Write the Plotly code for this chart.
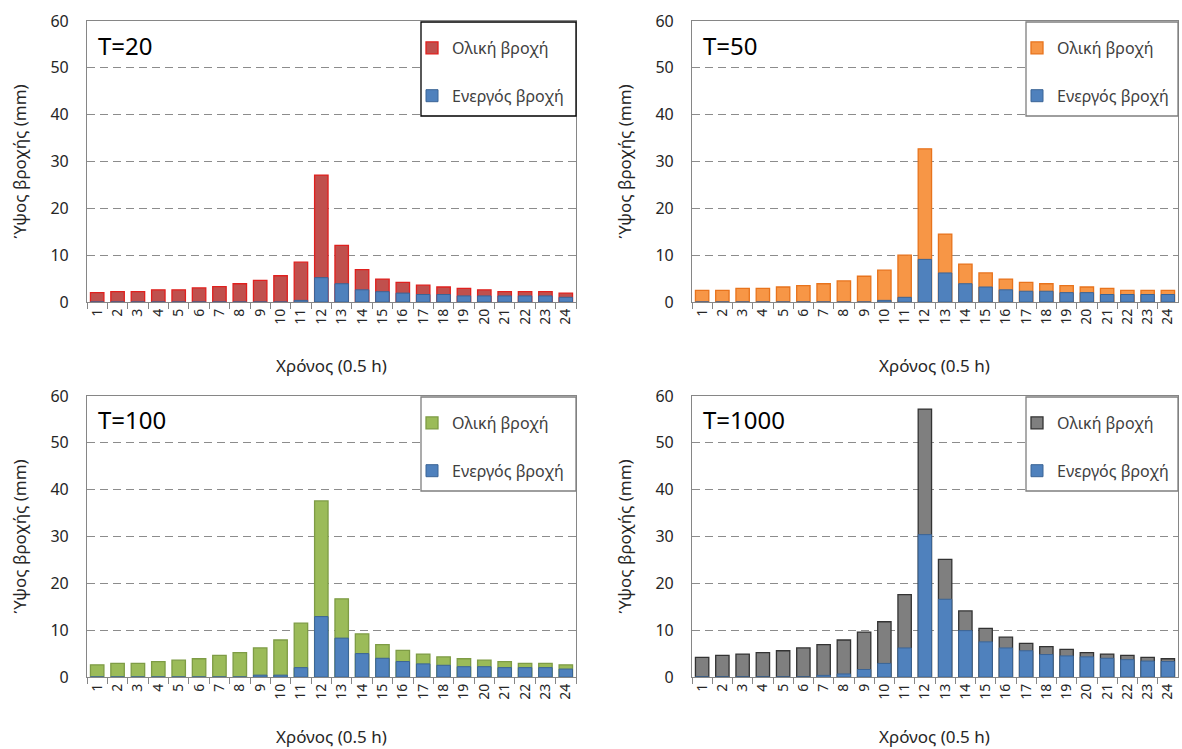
import plotly.graph_objects as go

steps = [str(i) for i in range(1, 25)]

total_T20 = [2.0, 2.2, 2.2, 2.6, 2.6, 3.0, 3.3, 3.9, 4.6, 5.6, 8.5, 27.1, 12.1, 6.9, 4.9, 4.2, 3.6, 3.2, 2.9, 2.6, 2.2, 2.2, 2.2, 1.9]
eff_T20 = [0, 0, 0, 0, 0, 0, 0, 0, 0, 0, 0.35, 5.2, 3.9, 2.6, 2.2, 1.9, 1.6, 1.6, 1.3, 1.3, 1.3, 1.3, 1.3, 1.0]

total_T50 = [2.5, 2.5, 2.9, 2.9, 3.2, 3.5, 3.9, 4.5, 5.5, 6.8, 10.0, 32.7, 14.5, 8.1, 6.2, 4.9, 4.2, 3.9, 3.5, 3.2, 2.9, 2.5, 2.5, 2.5]
eff_T50 = [0, 0, 0, 0, 0, 0, 0, 0, 0, 0.35, 1.0, 9.1, 6.2, 3.9, 3.2, 2.6, 2.3, 2.3, 2.0, 2.0, 1.6, 1.6, 1.6, 1.6]

total_T100 = [2.6, 2.9, 2.9, 3.3, 3.6, 3.9, 4.6, 5.2, 6.2, 7.9, 11.5, 37.6, 16.7, 9.2, 6.9, 5.7, 4.9, 4.3, 3.9, 3.6, 3.3, 2.9, 2.9, 2.6]
eff_T100 = [0, 0, 0, 0, 0, 0, 0, 0, 0.4, 0.4, 2.0, 12.9, 8.3, 5.0, 4.0, 3.3, 2.8, 2.5, 2.2, 2.2, 2.0, 2.0, 2.0, 1.7]

total_T1000 = [4.2, 4.6, 4.9, 5.2, 5.6, 6.2, 6.9, 7.9, 9.6, 11.8, 17.6, 57.2, 25.1, 14.1, 10.4, 8.5, 7.2, 6.5, 5.9, 5.2, 4.9, 4.6, 4.2, 3.9]
eff_T1000 = [0, 0, 0, 0, 0, 0, 0.35, 0.65, 1.6, 2.9, 6.2, 30.4, 16.6, 9.9, 7.5, 6.2, 5.6, 4.8, 4.5, 4.3, 4.0, 3.7, 3.4, 3.3]

labels = ["T=20", "T=50", "T=100", "T=1000"]
totals = [total_T20, total_T50, total_T100, total_T1000]
effs = [eff_T20, eff_T50, eff_T100, eff_T1000]

total_fill = ["#C0504D", "#F79646", "#9BBB59", "#7F7F7F"]
total_line = ["#E0201E", "#E8731C", "#7E9C45", "#333333"]
eff_fill = "#4F81BD"
eff_line = "#3A6496"

name_total = "Ολική βροχή"
name_eff = "Ενεργός βροχή"
xtitle = "Χρόνος (0.5 h)"
ytitle = "Ύψος βροχής (mm)"

FONT = "Noto Sans"
TXT = "#262626"
W, H = 1182, 749

# panel pixel boxes: (left, right, top, bottom)
boxes = [(87, 576, 21, 302), (692, 1178, 21, 302), (87, 576, 396, 677), (692, 1178, 396, 677)]
legend_boxes = [(421, 576, 22, 116), (1026, 1178, 22, 116), (421, 576, 397, 491), (1026, 1178, 397, 491)]
legend_border = ["#000000", "#7F7F7F", "#7F7F7F", "#7F7F7F"]
xtitle_y = [365, 365, 736, 736]
ytitle_x = [19, 624, 19, 624]

fig = go.Figure()
layout = dict(
    width=W, height=H, margin=dict(l=0, r=0, t=0, b=0),
    paper_bgcolor="white", plot_bgcolor="white",
    barmode="overlay", bargap=0.34,
    font=dict(family=FONT, size=14, color=TXT),
    shapes=[], annotations=[],
)

for i in range(4):
    l, r, t, b = boxes[i]
    xa = "x" if i == 0 else f"x{i+1}"
    ya = "y" if i == 0 else f"y{i+1}"
    leg = "legend" if i == 0 else f"legend{i+1}"
    fig.add_trace(go.Bar(
        x=steps, y=totals[i], name=name_total, xaxis=xa, yaxis=ya,
        marker=dict(color=total_fill[i], line=dict(color=total_line[i], width=1.3)),
        legend=leg, legendgroup=f"t{i}", hoverinfo="y",
    ))
    fig.add_trace(go.Bar(
        x=steps, y=effs[i], name=name_eff, xaxis=xa, yaxis=ya,
        marker=dict(color=eff_fill, line=dict(color=eff_line, width=1.0)),
        legend=leg, legendgroup=f"e{i}", hoverinfo="y",
    ))
    xkey = "xaxis" if i == 0 else f"xaxis{i+1}"
    ykey = "yaxis" if i == 0 else f"yaxis{i+1}"
    layout[xkey] = dict(
        domain=[l / W, r / W], anchor=ya, type="category", automargin=False,
        tickangle=-90, ticks="outside", ticklen=6, tickcolor="#868686",
        tickson="boundaries", showline=True, linecolor="#868686", linewidth=1.2,
        mirror=True, showgrid=False, tickfont=dict(size=14, color=TXT),
    )
    layout[ykey] = dict(
        domain=[1 - b / H, 1 - t / H], anchor=xa, range=[0, 60], dtick=10,
        automargin=False,
        showline=True, linecolor="#868686", linewidth=1.2, mirror=True,
        showgrid=True, gridcolor="#8C8C8C", griddash="8px,5px", gridwidth=1.3,
        zeroline=False, ticks="", ticklabelstandoff=14,
        tickfont=dict(size=16, color=TXT),
    )
    layout["annotations"].append(dict(
        text=labels[i], x=(l + 9) / W, y=1 - (t + 24) / H, xref="paper", yref="paper",
        xanchor="left", yanchor="middle", showarrow=False,
        font=dict(size=24, color="#000000"),
    ))
    layout["annotations"].append(dict(
        text=xtitle, x=(l + r) / 2 / W, y=1 - xtitle_y[i] / H, xref="paper", yref="paper",
        xanchor="center", yanchor="middle", showarrow=False,
        font=dict(size=17, color=TXT),
    ))
    layout["annotations"].append(dict(
        text=ytitle, x=ytitle_x[i] / W, y=1 - (t + b) / 2 / H, xref="paper", yref="paper",
        xanchor="center", yanchor="middle", showarrow=False, textangle=-90,
        font=dict(size=17, color=TXT),
    ))
    ll, lr, lt, lb = legend_boxes[i]
    layout["shapes"].append(dict(
        type="rect", xref="paper", yref="paper",
        x0=ll / W, x1=lr / W, y0=1 - lb / H, y1=1 - lt / H,
        line=dict(color=legend_border[i], width=1.3), fillcolor="white", layer="above",
    ))
    layout[leg] = dict(
        x=(ll - 9) / W, y=1 - (lt + 9) / H, xanchor="left", yanchor="top",
        bgcolor="rgba(0,0,0,0)", borderwidth=0, tracegroupgap=24,
        itemwidth=30, font=dict(size=16, color="#404040"),
    )

fig.update_layout(**layout)
fig.write_html("out.html")
